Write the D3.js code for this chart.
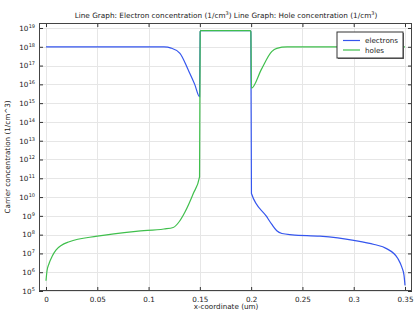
<!DOCTYPE html>
<html>
<head>
<meta charset="utf-8">
<script src="https://cdn.jsdelivr.net/npm/d3@7"></script>
<style>
  body { margin: 0; background: #fff; }
  text { font-family: "DejaVu Sans", sans-serif; fill: #222; }
</style>
</head>
<body>
<script>
var width = 419, height = 315;
var plotL = 39, plotR = 412, plotT = 23, plotB = 291;
var fs = 7.2;

var color_e = "#3556ee";
var color_h = "#3fbf4c";

// electron concentration (1/cm^3) vs x-coordinate (um)
var xElectrons = [0, 0.05, 0.1, 0.115, 0.122, 0.1306, 0.1387, 0.145, 0.1497,
                  0.1503, 0.151, 0.199, 0.1997, 0.2003, 0.215, 0.22, 0.225, 0.23,
                  0.24, 0.267, 0.3, 0.32, 0.332, 0.343, 0.347, 0.349, 0.35];
var nElectrons = [1e18, 1e18, 1e18, 9.8e17, 8.5e17, 4.5e17, 5.8e16, 1e16, 2.2e15,
                  6.3e18, 7.2e18, 7.2e18, 6.3e18, 1.55e10, 9.3e8, 3.6e8, 1.6e8, 1.15e8,
                  9.8e7, 8.3e7, 5e7, 3e7, 1.8e7, 5.4e6, 1.8e6, 7e5, 2e5];

// hole concentration (1/cm^3) vs x-coordinate (um)
var xHoles = [0, 0.001, 0.003, 0.006, 0.0097, 0.0227, 0.05, 0.0877, 0.115, 0.124,
              0.13, 0.1355, 0.1436, 0.1497, 0.1503, 0.151, 0.199, 0.1997, 0.2003,
              0.21, 0.22, 0.225, 0.235, 0.3, 0.35];
var pHoles = [3.5e5, 1.2e6, 2.9e6, 7e6, 1.5e7, 4.2e7, 8.3e7, 1.5e8, 2e8, 2.4e8,
              5e8, 1.6e9, 1.55e10, 1.2e11, 6.3e18, 7.2e18, 7.2e18, 6.3e18, 6.2e15,
              6.3e16, 5.5e17, 8.3e17, 9.8e17, 1e18, 1e18];

var xTicks = [0, 0.05, 0.1, 0.15, 0.2, 0.25, 0.3, 0.35];
var xTickLabels = ["0", "0.05", "0.1", "0.15", "0.2", "0.25", "0.3", "0.35"];
var yExponents = [5, 6, 7, 8, 9, 10, 11, 12, 13, 14, 15, 16, 17, 18, 19];
var seriesNames = ["electrons", "holes"];

var x = d3.scaleLinear().domain([-0.00682, 0.35682]).range([plotL, plotR]);
var y = d3.scaleLog().domain([1e5, Math.pow(10, 19.266)]).range([plotB, plotT]);
var yTicks = yExponents.map(function(e) { return Math.pow(10, e); });

var svg = d3.select("body").append("svg")
  .attr("width", width)
  .attr("height", height);

// grid
var grid = svg.append("g").attr("stroke", "#e6e6e6").attr("stroke-width", 1);
grid.selectAll("line.gx").data(xTicks).enter().append("line")
  .attr("x1", function(d) { return Math.round(x(d)) + 0.5; })
  .attr("x2", function(d) { return Math.round(x(d)) + 0.5; })
  .attr("y1", plotT).attr("y2", plotB);
grid.selectAll("line.gy").data(yTicks).enter().append("line")
  .attr("y1", function(d) { return Math.round(y(d)) + 0.5; })
  .attr("y2", function(d) { return Math.round(y(d)) + 0.5; })
  .attr("x1", plotL).attr("x2", plotR);

// curves
svg.append("clipPath").attr("id", "clip").append("rect")
  .attr("x", plotL).attr("y", plotT)
  .attr("width", plotR - plotL).attr("height", plotB - plotT);

var line = d3.line()
  .x(function(d) { return x(d[0]); })
  .y(function(d) { return y(d[1]); })
  .curve(d3.curveMonotoneX);

var plot = svg.append("g").attr("clip-path", "url(#clip)");
plot.append("path")
  .datum(d3.zip(xElectrons, nElectrons))
  .attr("d", line).attr("fill", "none")
  .attr("stroke", color_e).attr("stroke-width", 1.2);
plot.append("path")
  .datum(d3.zip(xHoles, pHoles))
  .attr("d", line).attr("fill", "none")
  .attr("stroke", color_h).attr("stroke-width", 1.2);

// axes: ticks on all four sides, pointing inward
var tickLen = 4;
var axB = d3.axisBottom(x).tickValues(xTicks).tickSize(-tickLen).tickPadding(6)
  .tickFormat(function(d, i) { return xTickLabels[i]; });
var axT = d3.axisTop(x).tickValues(xTicks).tickSize(-tickLen).tickFormat("");
var axL = d3.axisLeft(y).tickValues(yTicks).tickSize(-tickLen).tickFormat("");
var axR = d3.axisRight(y).tickValues(yTicks).tickSize(-tickLen).tickFormat("");

function styleAxis(g) {
  g.select(".domain").remove();
  g.selectAll(".tick line").attr("stroke", "#333");
  g.selectAll(".tick text").attr("font-size", fs).attr("fill", "#222")
    .attr("font-family", "DejaVu Sans, sans-serif");
}
svg.append("g").attr("transform", "translate(0," + plotB + ")").call(axB).call(styleAxis);
svg.append("g").attr("transform", "translate(0," + plotT + ")").call(axT).call(styleAxis);
var gL = svg.append("g").attr("transform", "translate(" + plotL + ",0)").call(axL).call(styleAxis);
svg.append("g").attr("transform", "translate(" + plotR + ",0)").call(axR).call(styleAxis);

// y tick labels with superscripts
gL.selectAll(".tick").each(function(d, i) {
  var t = d3.select(this).append("text")
    .attr("x", -4).attr("dy", "0.32em").attr("text-anchor", "end")
    .attr("font-size", fs);
  t.append("tspan").text("10");
  t.append("tspan").attr("font-size", 5).attr("dy", "-0.6em").attr("dx", "0.3")
    .text(yExponents[i]);
});

// frame
svg.append("rect")
  .attr("x", plotL + 0.5).attr("y", plotT + 0.5)
  .attr("width", plotR - plotL - 1).attr("height", plotB - plotT - 1)
  .attr("fill", "none").attr("stroke", "#444").attr("stroke-width", 1);

// title
var title = svg.append("text").attr("x", 226).attr("y", 18)
  .attr("text-anchor", "middle").attr("font-size", 7.3);
title.append("tspan").text("Line Graph: Electron concentration (1/cm");
title.append("tspan").attr("font-size", 5).attr("dy", "-0.6em").text("3");
title.append("tspan").attr("dy", "0.44em").text(")  Line Graph: Hole concentration (1/cm");
title.append("tspan").attr("font-size", 5).attr("dy", "-0.6em").text("3");
title.append("tspan").attr("dy", "0.44em").text(")");

// axis labels
svg.append("text").attr("x", 226).attr("y", 309)
  .attr("text-anchor", "middle").attr("font-size", fs)
  .text("x-coordinate (um)");
svg.append("text")
  .attr("transform", "translate(10," + 157 + ") rotate(-90)")
  .attr("text-anchor", "middle").attr("font-size", fs)
  .text("Carrier concentration (1/cm^3)");

// legend
var lg = svg.append("g").attr("transform", "translate(337,32)");
lg.append("rect").attr("x", 1).attr("y", 1).attr("width", 66).attr("height", 26)
  .attr("fill", "#666");
lg.append("rect").attr("x", 0).attr("y", 0).attr("width", 66).attr("height", 26)
  .attr("fill", "#fff").attr("stroke", "#333").attr("stroke-width", 1);
[color_e, color_h].forEach(function(c, i) {
  var yy = 8.5 + i * 9.5;
  lg.append("line").attr("x1", 6).attr("x2", 23).attr("y1", yy).attr("y2", yy)
    .attr("stroke", c).attr("stroke-width", 1.2);
  lg.append("text").attr("x", 28).attr("y", yy).attr("dy", "0.35em")
    .attr("font-size", fs).text(seriesNames[i]);
});
</script>
</body>
</html>
